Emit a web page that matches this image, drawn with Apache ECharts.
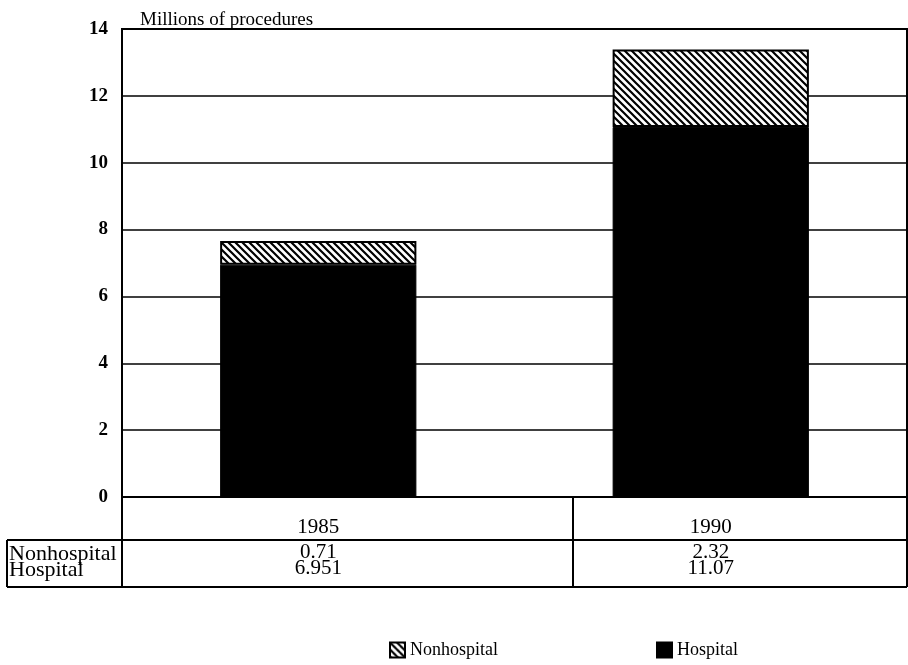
<!DOCTYPE html>
<html>
<head>
<meta charset="utf-8">
<script src="https://cdn.jsdelivr.net/npm/echarts@6/dist/echarts.min.js"></script>
<style>
  html, body { margin: 0; padding: 0; background: #fff; }
  #chart { width: 908px; height: 665px; }
</style>
</head>
<body>
<div id="chart"></div>
<script>
// data
const years = ['1985', '1990']
const hospital = [6.951, 11.07]
const nonhospital = [0.71, 2.32]
const yTicks = [0, 2, 4, 6, 8, 10, 12, 14]

const FONT = '"Liberation Serif", "DejaVu Serif", serif'

// diagonal hatch for nonhospital
function hatch() {
  const s = 7
  const c = document.createElement('canvas')
  c.width = s
  c.height = s
  const ctx = c.getContext('2d')
  ctx.fillStyle = '#fff'
  ctx.fillRect(0, 0, s, s)
  ctx.strokeStyle = '#000'
  ctx.lineWidth = 2.2
  ctx.beginPath()
  ctx.moveTo(-1, -1); ctx.lineTo(s + 1, s + 1)
  ctx.moveTo(s - 2, -2); ctx.lineTo(s + 2, 2)
  ctx.moveTo(-2, s - 2); ctx.lineTo(2, s + 2)
  ctx.stroke()
  return c
}

const chart = echarts.init(document.getElementById('chart'))

const gLeft = 122, gRight = 907, gTop = 29, gBottom = 497
const rowLine = 540, tableBottom = 587, divider = 573

function line(x1, y1, x2, y2, w) {
  return { type: 'line', shape: { x1, y1, x2, y2 }, style: { stroke: '#000', lineWidth: w || 2 }, z: 10 }
}

var option = {
  animation: false,
  backgroundColor: '#fff',
  title: {
    text: 'Millions of procedures',
    left: 135,
    top: 6,
    textStyle: { fontFamily: FONT, fontSize: 19, fontWeight: 'normal', color: '#000' },
  },
  grid: {
    left: gLeft,
    right: 908 - gRight,
    top: gTop,
    bottom: 665 - gBottom,
    show: true,
    borderColor: '#000',
    borderWidth: 2,
    containLabel: false,
  },
  legend: {
    data: ['Nonhospital', 'Hospital'],
    left: 384,
    top: 636,
    itemWidth: 15,
    itemHeight: 15,
    itemGap: 158,
    icon: 'rect',
    textStyle: { fontFamily: FONT, fontSize: 18, color: '#000' },
  },
  xAxis: [
    {
      type: 'category',
      data: years,
      axisLine: { show: true, lineStyle: { color: '#000', width: 2 } },
      axisTick: { show: false },
      axisLabel: { color: '#000', fontFamily: FONT, fontSize: 21, margin: 20 },
    },
    {
      type: 'category',
      data: years,
      position: 'bottom',
      axisLine: { show: false },
      axisTick: { show: false },
      axisLabel: {
        color: '#000',
        fontFamily: FONT,
        fontSize: 21,
        lineHeight: 16,
        margin: 47,
        formatter: (v, i) => nonhospital[i] + '\n' + hospital[i],
      },
    },
  ],
  yAxis: {
    type: 'value',
    min: yTicks[0],
    max: yTicks[yTicks.length - 1],
    interval: 2,
    axisLine: { show: true, lineStyle: { color: '#000', width: 2 } },
    axisTick: { show: false },
    splitLine: { show: true, lineStyle: { color: '#000', width: 1.5 } },
    axisLabel: { color: '#000', fontFamily: FONT, fontSize: 19, fontWeight: 'bold', margin: 14 },
  },
  series: [
    {
      name: 'Hospital',
      type: 'bar',
      stack: 'total',
      barWidth: '50%',
      itemStyle: { color: '#000', borderColor: '#000', borderWidth: 1 },
      data: hospital,
    },
    {
      name: 'Nonhospital',
      type: 'bar',
      stack: 'total',
      barWidth: '50%',
      itemStyle: { color: { image: hatch(), repeat: 'repeat' }, borderColor: '#000', borderWidth: 2 },
      data: nonhospital,
    },
  ],
  graphic: [
    line(gLeft, gBottom, gLeft, tableBottom),
    line(gRight, gBottom, gRight, tableBottom),
    line(divider, gBottom, divider, tableBottom),
    line(7, rowLine, gRight, rowLine),
    line(7, tableBottom, gRight, tableBottom),
    line(7, rowLine, 7, tableBottom),
    {
      type: 'text',
      left: 9,
      top: rowLine + 3,
      style: { text: 'Nonhospital\nHospital', font: '22px ' + FONT, fill: '#000', lineHeight: 16 },
    },
  ],
}
chart.setOption(option)
</script>
</body>
</html>
